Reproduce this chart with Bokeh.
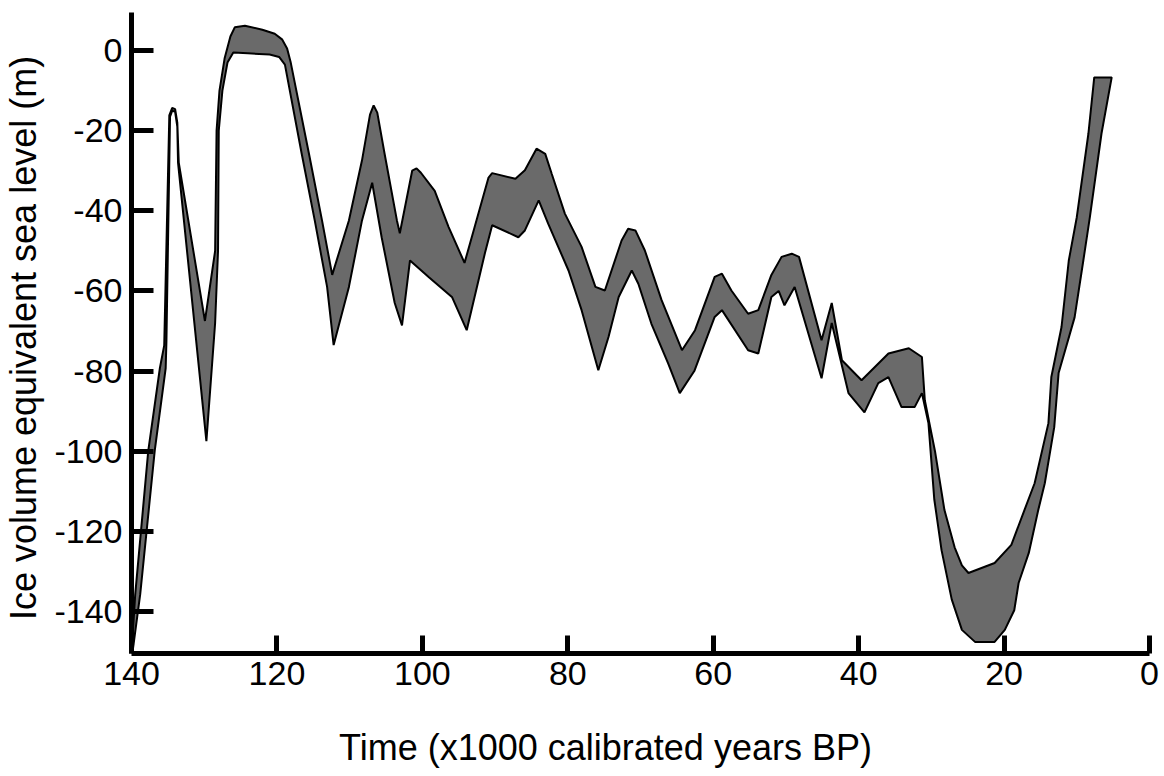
from bokeh.plotting import figure
from bokeh.models import Range1d, FixedTicker
from bokeh.embed import file_html
from bokeh.resources import INLINE

# Upper bound of the ice-volume equivalent sea-level band (age in kyr BP, level in m)
upper_age = [139.9, 139.5, 137.7, 136.1, 135.5, 134.8, 134.4, 134.0, 133.7, 133.5,
             129.9, 128.5, 128.3, 127.9, 127.2, 126.4, 125.8, 124.4, 122.0, 120.3,
             119.3, 118.6, 118.1, 115.6, 113.8, 112.4, 110.1, 108.3, 107.2, 106.7,
             106.2, 105.2, 103.5, 103.1, 101.4, 100.8, 100.2, 98.3, 96.4, 94.2,
             92.8, 90.9, 90.4, 87.2, 85.9, 84.3, 83.1, 82.2, 80.4, 78.1,
             76.2, 74.9, 72.6, 71.7, 70.7, 69.4, 67.1, 64.3, 62.5, 59.8,
             58.8, 57.5, 55.2, 53.8, 52.0, 50.6, 49.2, 48.2, 45.1, 43.7,
             42.3, 39.6, 35.9, 33.1, 31.3, 30.9, 29.5, 28.2, 26.8, 25.8,
             24.9, 21.3, 19.0, 17.2, 15.8, 13.9, 13.5, 12.1, 11.1, 10.0,
             8.4, 7.6]
upper_level = [-148, -136, -100, -79.3, -73.6, -16.2, -14.3, -14.6, -18, -28,
               -67.5, -50, -20, -10, -2, 3.5, 5.8, 6.2, 5.2, 4.2,
               2.8, 0.5, -3, -25.7, -42.4, -56, -42.4, -27.4, -16, -13.7,
               -15.5, -25.7, -42.4, -45.6, -30, -29.4, -30.5, -35, -44, -53,
               -44, -31.7, -30.6, -32, -29.9, -24.5, -25.8, -30.8, -40.7, -49,
               -59, -59.9, -47.4, -44.5, -44.9, -49.9, -62.3, -74.8, -69.8, -56.5,
               -55.7, -59.9, -65.7, -64.8, -56, -51.5, -50.7, -51.5, -72.3, -63,
               -77.3, -82.3, -75.6, -74.3, -76.5, -87.3, -100, -114.7, -124, -128.5,
               -130.4, -127.9, -123.4, -114.7, -108, -93, -81.5, -69, -52.4, -41.6,
               -20.7, -6.7]

# Lower bound of the band
lower_age = [139.9, 139.7, 138.8, 136.8, 135.3, 135.2, 134.7, 134.4, 134.0, 133.7,
             133.6, 129.7, 128.5, 128.1, 128.0, 127.5, 126.8, 126.0, 124.0, 121.0,
             119.7, 118.9, 116.6, 114.8, 113.1, 112.2, 110.1, 108.3, 106.9, 105.6,
             103.8, 102.8, 101.7, 99.1, 95.9, 93.9, 91.4, 90.4, 86.8, 85.9,
             84.0, 82.7, 79.9, 78.1, 75.8, 74.4, 73.0, 71.2, 70.3, 68.5,
             66.2, 64.6, 62.6, 59.8, 58.8, 55.2, 53.8, 52.0, 51.0, 50.2,
             48.8, 45.1, 43.7, 41.4, 39.2, 37.3, 35.9, 34.1, 32.3, 31.3,
             30.4, 29.6, 28.6, 27.2, 25.8, 24.0, 21.3, 19.9, 18.6, 18.0,
             16.6, 15.3, 14.4, 13.1, 12.5, 10.3, 9.1, 8.2, 6.6, 5.2]
lower_level = [-150.5, -148, -135.7, -99.8, -79.3, -72.8, -16.5, -15.0, -15.3, -19,
               -28, -97.5, -68, -50, -20, -10, -3, -0.5, -0.7, -1.0,
               -1.6, -3.5, -25.7, -42.4, -59, -73.5, -59, -42.4, -33, -46.6,
               -63, -68.6, -52.4, -56.6, -61.6, -69.8, -50.6, -43.6, -46.6, -44.9,
               -37.4, -43.2, -54.9, -64.8, -79.8, -71.5, -61.5, -54.9, -58.2, -68.2,
               -78.1, -85.5, -80, -66.5, -64.8, -74.8, -75.6, -61.5, -60, -63.6,
               -59, -81.8, -68, -85.5, -90.3, -83, -81.5, -89, -89, -85.5,
               -93, -112, -124.7, -137, -144.6, -147.6, -147.6, -144.6, -139.7, -132.9,
               -125.4, -114.7, -108, -94, -80.5, -66.6, -52.4, -41.6, -20.7, -6.7]

x_ticks = [140, 120, 100, 80, 60, 40, 20, 0]
x_tick_labels = ["140", "120", "100", "80", "60", "40", "20", "0"]
y_ticks = [0, -20, -40, -60, -80, -100, -120, -140]
y_tick_labels = ["0", "-20", "-40", "-60", "-80", "-100", "-120", "-140"]

x_title = "Time (x1000 calibrated years BP)"
y_title = "Ice volume equivalent sea level (m)"

FONT = "Liberation Sans"

p = figure(width=1160, height=770, output_backend="svg", toolbar_location=None,
           x_range=Range1d(140, 0), y_range=Range1d(-150.5, 9.5),
           min_border_left=131, min_border_right=11, min_border_top=12,
           min_border_bottom=117)
p.xgrid.visible = False
p.ygrid.visible = False
p.outline_line_color = None
p.background_fill_color = "white"
p.border_fill_color = "white"

xs = upper_age + lower_age[::-1]
ys = upper_level + lower_level[::-1]
p.patch(xs, ys, fill_color="#6a6a6a", line_color="black", line_width=2)

for ax in (p.xaxis[0], p.yaxis[0]):
    ax.axis_line_width = 5
    ax.axis_line_color = "black"
    ax.major_tick_line_width = 5
    ax.major_tick_line_color = "black"
    ax.major_tick_out = 0
    ax.minor_tick_line_color = None
    ax.major_label_text_font = FONT
    ax.major_label_text_font_size = "34px"
    ax.major_label_text_color = "black"
    ax.axis_label_text_font = FONT
    ax.axis_label_text_font_size = "36px"
    ax.axis_label_text_font_style = "normal"
    ax.axis_label_text_color = "black"

p.xaxis.ticker = FixedTicker(ticks=x_ticks)
p.xaxis.major_label_overrides = dict(zip(x_ticks, x_tick_labels))
p.xaxis.major_tick_in = 18
p.xaxis.major_label_standoff = 8
# trailing no-break spaces shift the centred title left, as in the reference
p.xaxis.axis_label = x_title + "\u00a0" * 7
p.xaxis.axis_label_standoff = 39

p.yaxis.ticker = FixedTicker(ticks=y_ticks)
p.yaxis.major_label_overrides = dict(zip(y_ticks, y_tick_labels))
p.yaxis.major_tick_in = 22
p.yaxis.major_label_standoff = 9
p.yaxis.axis_label = y_title + "\u00a0"
p.yaxis.axis_label_standoff = 7

open("out.html", "w").write(file_html(p, INLINE))
